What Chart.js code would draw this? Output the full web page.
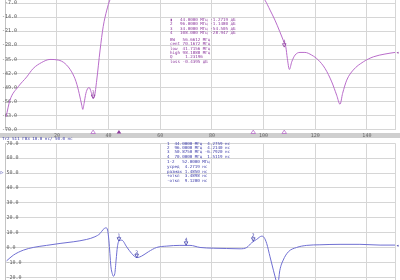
<!DOCTYPE html>
<html><head><meta charset="utf-8">
<script src="https://cdn.jsdelivr.net/npm/chart.js@4.4.1/dist/chart.umd.min.js"></script>
<style>
html,body{margin:0;padding:0;background:#fff;overflow:hidden;width:400px;height:280px;}
#wrap{position:relative;width:400px;height:280px;overflow:hidden;background:#fff;}
.band{position:absolute;left:0;top:132.5px;width:400px;height:5px;background:#cfcfcf;}
canvas{position:absolute;left:0;}
#c1{top:-11px;width:400px;height:151px;}
#c2{top:138px;width:400px;height:160px;}
.txt{position:absolute;font-family:"DejaVu Sans Mono",monospace;font-size:4.2px;line-height:4.4px;white-space:pre;}
.pur{color:#8e3a9e;}
.blu{color:#3a3aa8;}
</style></head><body>
<div id="wrap">
<div class="band"></div>
<canvas id="c1" width="400" height="151"></canvas>
<canvas id="c2" width="400" height="160"></canvas>
<div class="txt blu" style="left:2px;top:137.4px;">Tr2 S11 ГВЗ 10.0 нс/ 50.0 нс</div>
<div class="txt pur" style="left:170px;top:17.8px;">▮   44.0000 МГц -1.2719 дБ
2   96.0000 МГц -1.1480 дБ
3   34.0000 МГц -54.505 дБ
4   108.000 МГц -28.947 дБ</div>
<div class="txt pur" style="left:170px;top:37.8px;">BW   56.6612 МГц
cent 70.1672 МГц
low  41.7156 МГц
high 98.1888 МГц
Q     1.23196
loss -0.4395 дБ</div>
<div class="txt blu" style="left:167px;top:141.5px;">1  44.0000 МГц  4.2759 нс
2  96.0000 МГц  4.2140 нс
3  50.8750 МГц -6.7920 нс
4  70.0000 МГц  1.5119 нс</div>
<div class="txt blu" style="left:167px;top:160.1px;line-height:4.75px;">1-2   52.0000 МГц
усред  4.2719 нс
размах 1.4850 нс
+откл  3.4898 нс
-откл  9.1200 нс</div>
<div class="txt pur" style="left:396px;top:49.5px;font-size:5px;">◂</div>
<div class="txt blu" style="left:0.5px;top:169.5px;font-size:5px;">▷</div>
<div class="txt blu" style="left:396px;top:242.5px;font-size:5px;">◂</div>
</div>
<script>
// ---- data ----
const freqS11 = [0.3, 1.8, 5.0, 8.3, 10.8, 14.1, 17.3, 20.5, 23.1, 25.7, 27.4, 28.6, 29.6, 30.0, 30.5, 31.2, 32.0, 32.5, 33.2, 34.0, 34.5, 35.4, 36.7, 37.9, 39.3, 40.5, 42, 44, 50, 60, 70, 80, 90, 96, 99, 100.5, 102.5, 104.4, 106.3, 107.6, 108.6, 109.2, 110.0, 110.9, 112.2, 114.1, 116.0, 118.6, 121.2, 123.8, 126.4, 128.3, 129.6, 130.6, 132.2, 134.7, 138.6, 142.5, 147.0, 150.9];
const dbS11 = [-63.7, -55.4, -48.7, -43.8, -39.6, -36.6, -35.1, -35.4, -37.1, -41.3, -46.2, -52.0, -57.9, -60.0, -57.0, -52.0, -49.4, -49.1, -51.2, -54.5, -53.7, -45.4, -30.4, -18.8, -10.5, -5.5, -3.0, -1.27, -0.6, -0.45, -0.44, -0.5, -0.7, -1.15, -3.5, -5.5, -10.5, -15.5, -21.3, -25.5, -28.8, -34.6, -40.1, -36.3, -32.9, -31.6, -31.6, -32.9, -35.4, -39.6, -46.3, -52.9, -57.4, -52.0, -45.4, -40.4, -36.3, -33.8, -32.4, -31.6];

const freqGD = [0.5, 3.1, 7.0, 10.8, 16.0, 21.2, 26.3, 31.5, 34.7, 36.7, 37.9, 39.0, 39.6, 40.1, 40.5, 40.9, 41.4, 41.8, 42.4, 42.9, 43.4, 44.1, 45.1, 47.0, 48.9, 51.0, 52.8, 55.4, 58.6, 62.5, 67.6, 71.5, 75.4, 80.5, 85.7, 90.9, 93.5, 95.4, 97.3, 99.3, 100.2, 101.2, 102.5, 103.8, 104.8, 105.4, 106.3, 107.6, 109.6, 112.8, 116.7, 121.8, 129.6, 137.3, 145.1, 150.9];
const gdNs = [-9.0, -5.2, -1.8, 0.0, 1.4, 2.7, 3.8, 5.4, 7.2, 9.4, 12.1, 13.2, 11.7, 4.9, -4.0, -13.0, -17.5, -19.3, -17.5, -8.5, 0.4, 4.6, 4.9, 0.4, -4.0, -6.8, -5.8, -2.9, 0.0, 0.9, 1.4, 1.4, 0.0, -0.5, -0.7, -0.9, 0.0, 3.2, 5.4, 7.6, 6.7, 2.7, -6.3, -15.3, -22.0, -26.0, -15.3, -8.5, -2.9, 0.0, 1.4, 1.8, 2.1, 2.1, 1.6, 1.6];

const xTickValues = [0, 20, 40, 60, 80, 100, 120, 140, 151];
const xTickLabels = ['', '20', '40', '60', '80', '100', '120', '140', ''];
const markerNames = ['1', '2', '3', '4'];
const mkTopFreq = [44, 96, 34, 108];
const mkTopVal = [-1.2719, -1.1480, -54.505, -28.947];
const mkGdFreq = [44, 96, 50.875, 70];
const mkGdVal = [4.2759, 4.2140, -6.7920, 1.5119];

// ---- styling ----
const MONO = '"DejaVu Sans Mono", monospace';
const GRID = '#d6d6d6';
const TOP_COL = '#b96dca';
const TOP_TXT = '#8e3a9e';
const GD_COL = '#6f6fd2';
const GD_TXT = '#3a3aa8';

function pts(xs, ys) { return xs.map((v, i) => ({x: v, y: ys[i]})); }

function markerPlugin(cfg) {
  return {
    id: 'vnaMarkers',
    afterDraw(chart) {
      const {ctx, chartArea: a, scales: {x, y}} = chart;
      ctx.save();
      ctx.font = '4.6px ' + MONO;
      ctx.textAlign = 'center';
      ctx.textBaseline = 'alphabetic';
      cfg.freqs.forEach((f, i) => {
        const px = x.getPixelForValue(f);
        const py = y.getPixelForValue(cfg.vals[i]);
        if (py >= a.top && py <= a.bottom) {
          ctx.beginPath();
          ctx.moveTo(px, py);
          ctx.lineTo(px - 1.8, py - 3.4);
          ctx.lineTo(px + 1.8, py - 3.4);
          ctx.closePath();
          ctx.strokeStyle = cfg.text; ctx.lineWidth = 0.8; ctx.stroke();
          ctx.fillStyle = cfg.text;
          ctx.fillText(cfg.names[i], px, py - 4.0);
        }
        if (cfg.edge) {
          const yb = a.bottom;
          ctx.beginPath();
          ctx.moveTo(px, yb + 0.6);
          ctx.lineTo(px - 2.3, yb + 4.0);
          ctx.lineTo(px + 2.3, yb + 4.0);
          ctx.closePath();
          if (i === cfg.active) { ctx.fillStyle = cfg.text; ctx.fill(); }
          else { ctx.strokeStyle = cfg.line; ctx.lineWidth = 0.8; ctx.stroke(); }
        }
      });
      ctx.restore();
    }
  };
}

function xScale(showLabels, height) {
  return {
    type: 'linear', min: 0, max: 151,
    afterBuildTicks: s => { s.ticks = xTickValues.map(v => ({value: v})); },
    afterFit: s => { s.height = height; },
    ticks: {
      display: showLabels, autoSkip: false, maxRotation: 0, padding: 3.3,
      font: {size: 5, family: MONO}, color: '#666',
      callback: v => { const k = xTickValues.indexOf(v); return k >= 0 ? xTickLabels[k] : ''; }
    },
    grid: {color: GRID, lineWidth: 1, drawTicks: false},
    border: {display: false}
  };
}

function yScale(min, max, step, pad, align) {
  return {
    min: min, max: max,
    afterFit: s => { s.width = 0; },
    ticks: {
      stepSize: step, mirror: true, padding: pad, crossAlign: align,
      font: {size: 5, family: MONO}, color: '#555',
      callback: v => Number(v).toFixed(1)
    },
    grid: {color: GRID, lineWidth: 1, drawTicks: false},
    border: {display: true, color: '#c4c4c4'}
  };
}

new Chart(document.getElementById('c1'), {
  type: 'line',
  data: {datasets: [{
    label: 'S11 дБ',
    data: pts(freqS11, dbS11),
    borderColor: TOP_COL, borderWidth: 1, pointRadius: 0,
    cubicInterpolationMode: 'monotone', fill: false
  }]},
  options: {
    responsive: false, animation: false, maintainAspectRatio: false,
    layout: {padding: {left: 5.3, right: 4.7, top: 0, bottom: 0}},
    plugins: {legend: {display: false}, tooltip: {enabled: false}},
    scales: {x: xScale(true, 10.5), y: yScale(-70, 0, 7, -3.4, 'far')}
  },
  plugins: [markerPlugin({freqs: mkTopFreq, vals: mkTopVal, names: markerNames, text: TOP_TXT, line: TOP_COL, edge: true, active: 0})]
});

new Chart(document.getElementById('c2'), {
  type: 'line',
  data: {datasets: [{
    label: 'ГВЗ нс',
    data: pts(freqGD, gdNs),
    borderColor: GD_COL, borderWidth: 1, pointRadius: 0,
    cubicInterpolationMode: 'monotone', fill: false
  }]},
  options: {
    responsive: false, animation: false, maintainAspectRatio: false,
    layout: {padding: {left: 5.3, right: 4.7, top: 5.3, bottom: 0}},
    plugins: {legend: {display: false}, tooltip: {enabled: false}},
    scales: {x: xScale(false, 5.9), y: yScale(-30, 70, 10, 1.2, 'near')}
  },
  plugins: [markerPlugin({freqs: mkGdFreq, vals: mkGdVal, names: markerNames, text: GD_TXT, line: GD_COL, edge: false, active: -1})]
});
</script>
</body></html>
